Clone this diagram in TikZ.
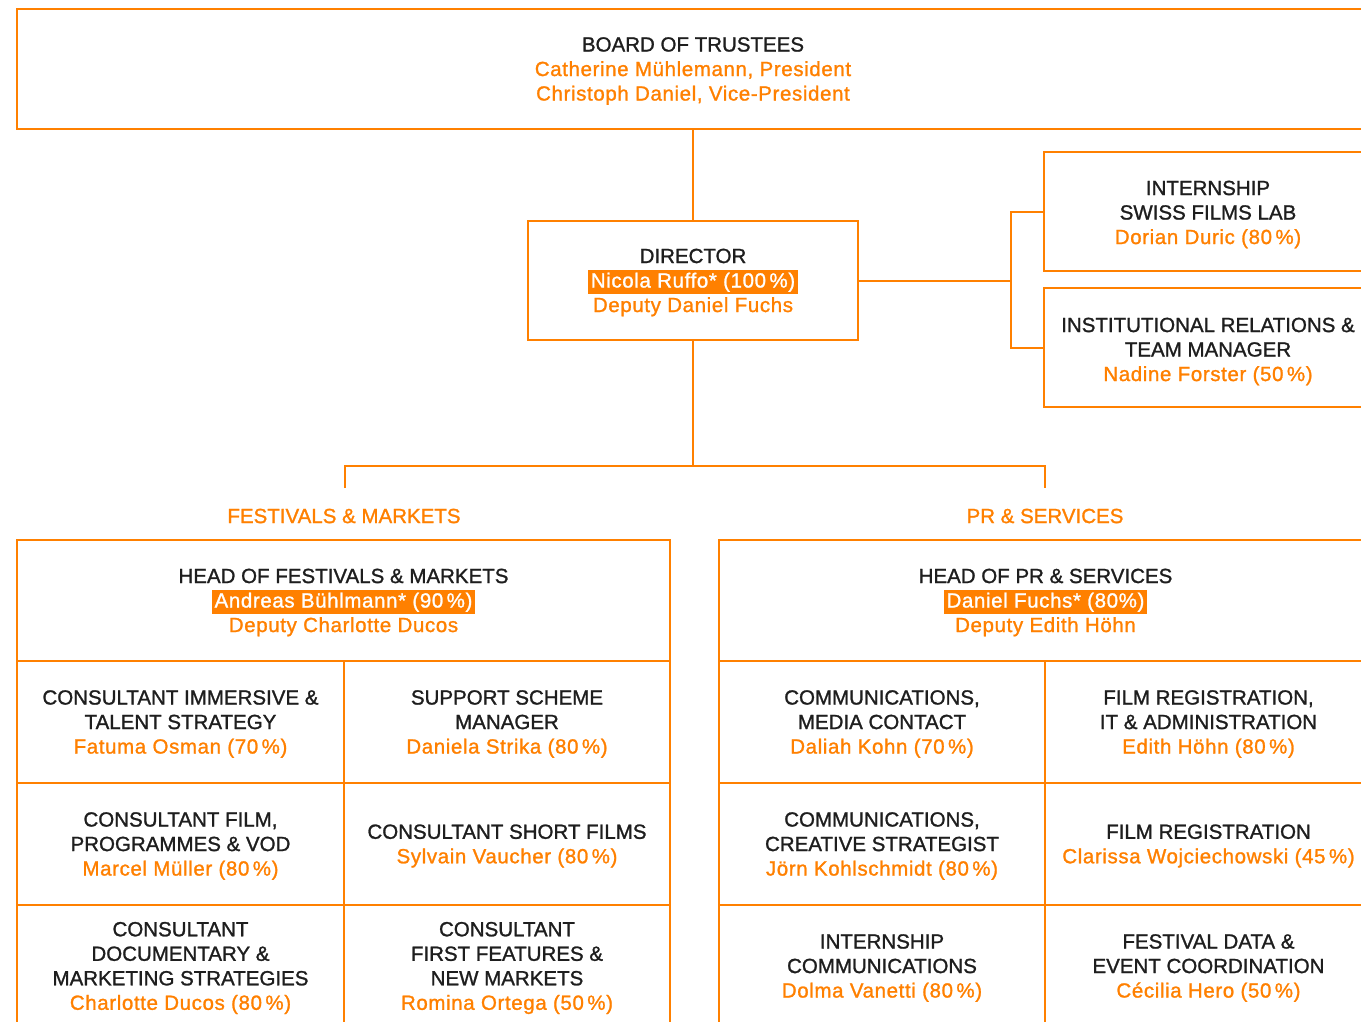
\documentclass[tikz,border=0pt]{standalone}
\usepackage{fontspec}
\setmainfont{Liberation Sans}[FakeBold=1.2]
\newfontfamily\namefont{Liberation Sans}[FakeBold=1.2,LetterSpace=3]
\usepackage{xcolor}
\definecolor{orng}{RGB}{255,128,0}
\definecolor{ink}{RGB}{30,30,30}
\newcommand\nm[1]{\textcolor{orng}{\namefont #1}}
\newcommand\hlname[1]{{\setlength\fboxsep{2.5pt}\colorbox{orng}{\textcolor{white}{\namefont #1}}}}
\begin{document}
\begin{tikzpicture}[x=1pt,y=-1pt,
  box/.style={draw=orng,line width=2pt,rectangle,anchor=north west,
    inner sep=0pt,outer sep=0pt},
  txt/.style={align=center,inner sep=0pt,text=ink,font=\fontsize{20.5}{24.5}\selectfont},
  conn/.style={draw=orng,line width=2pt},
  sect/.style={text=orng,font=\fontsize{20.5}{24.5}\selectfont,inner sep=0pt}]
\useasboundingbox (0,0) rectangle (1361,1021);
\clip (0,0) rectangle (1361,1021);
\fill[white] (0,0) rectangle (1361,1021);
\lineskiplimit=-20pt
% top
\node[box,minimum width=1352,minimum height=120] (board) at (17,9) {};
\node[txt] (boardt) at ([yshift=-2pt]board.center)
  {BOARD OF TRUSTEES\\ \nm{Catherine Mühlemann, President}\\ \nm{Christoph Daniel, Vice-President}};
\node[box,minimum width=330,minimum height=119] (director) at (528,221) {};
\node[txt] (directort) at ([yshift=-2pt]director.center)
  {DIRECTOR\\ \hlname{Nicola Ruffo* (100\,\%)}\\ \nm{Deputy Daniel Fuchs}};
\node[box,minimum width=328,minimum height=119] (intern) at (1044,152) {};
\node[txt] (internt) at ([yshift=-3pt]intern.center)
  {INTERNSHIP\\ SWISS FILMS LAB\\ \nm{Dorian Duric (80\,\%)}};
\node[box,minimum width=328,minimum height=119] (inst) at (1044,288) {};
\node[txt] (instt) at ([yshift=-4pt]inst.center)
  {INSTITUTIONAL RELATIONS \&\\ TEAM MANAGER\\ \nm{Nadine Forster (50\,\%)}};
% section labels
\node[sect] (fmlab) at (344,516) {FESTIVALS \& MARKETS};
\node[sect] (prlab) at (1045,516) {PR \& SERVICES};
% left grid
\node[box,minimum width=653,minimum height=121] (fmhead) at (17,540) {};
\node[txt] (fmheadt) at ([yshift=-2pt]fmhead.center)
  {HEAD OF FESTIVALS \& MARKETS\\ \hlname{Andreas Bühlmann* (90\,\%)}\\ \nm{Deputy Charlotte Ducos}};
\node[box,minimum width=327,minimum height=122] (fm11) at (17,661) {};
\node[txt] (fm11t) at ([yshift=-2pt]fm11.center)
  {CONSULTANT IMMERSIVE \&\\ TALENT STRATEGY\\ \nm{Fatuma Osman (70\,\%)}};
\node[box,minimum width=326,minimum height=122] (fm12) at (344,661) {};
\node[txt] (fm12t) at ([yshift=-2pt]fm12.center)
  {SUPPORT SCHEME\\ MANAGER\\ \nm{Daniela Strika (80\,\%)}};
\node[box,minimum width=327,minimum height=122] (fm21) at (17,783) {};
\node[txt] (fm21t) at ([yshift=-2pt]fm21.center)
  {CONSULTANT FILM,\\ PROGRAMMES \& VOD\\ \nm{Marcel Müller (80\,\%)}};
\node[box,minimum width=326,minimum height=122] (fm22) at (344,783) {};
\node[txt] (fm22t) at ([yshift=-2pt]fm22.center)
  {CONSULTANT SHORT FILMS\\ \nm{Sylvain Vaucher (80\,\%)}};
\node[box,minimum width=327,minimum height=122] (fm31) at (17,905) {};
\node[txt] (fm31t) at ([yshift=-2pt]fm31.center)
  {CONSULTANT\\ DOCUMENTARY \&\\ MARKETING STRATEGIES\\ \nm{Charlotte Ducos (80\,\%)}};
\node[box,minimum width=326,minimum height=122] (fm32) at (344,905) {};
\node[txt] (fm32t) at ([yshift=-2pt]fm32.center)
  {CONSULTANT\\ FIRST FEATURES \&\\ NEW MARKETS\\ \nm{Romina Ortega (50\,\%)}};
% right grid
\node[box,minimum width=653,minimum height=121] (prhead) at (719,540) {};
\node[txt] (prheadt) at ([yshift=-2pt]prhead.center)
  {HEAD OF PR \& SERVICES\\ \hlname{Daniel Fuchs* (80\%)}\\ \nm{Deputy Edith Höhn}};
\node[box,minimum width=326,minimum height=122] (pr11) at (719,661) {};
\node[txt] (pr11t) at ([yshift=-2pt]pr11.center)
  {COMMUNICATIONS,\\ MEDIA CONTACT\\ \nm{Daliah Kohn (70\,\%)}};
\node[box,minimum width=327,minimum height=122] (pr12) at (1045,661) {};
\node[txt] (pr12t) at ([yshift=-2pt]pr12.center)
  {FILM REGISTRATION,\\ IT \& ADMINISTRATION\\ \nm{Edith Höhn (80\,\%)}};
\node[box,minimum width=326,minimum height=122] (pr21) at (719,783) {};
\node[txt] (pr21t) at ([yshift=-2pt]pr21.center)
  {COMMUNICATIONS,\\ CREATIVE STRATEGIST\\ \nm{Jörn Kohlschmidt (80\,\%)}};
\node[box,minimum width=327,minimum height=122] (pr22) at (1045,783) {};
\node[txt] (pr22t) at ([yshift=-2pt]pr22.center)
  {FILM REGISTRATION\\ \nm{Clarissa Wojciechowski (45\,\%)}};
\node[box,minimum width=326,minimum height=122] (pr31) at (719,905) {};
\node[txt] (pr31t) at ([yshift=-2pt]pr31.center)
  {INTERNSHIP\\ COMMUNICATIONS\\ \nm{Dolma Vanetti (80\,\%)}};
\node[box,minimum width=327,minimum height=122] (pr32) at (1045,905) {};
\node[txt] (pr32t) at ([yshift=-2pt]pr32.center)
  {FESTIVAL DATA \&\\ EVENT COORDINATION\\ \nm{Cécilia Hero (50\,\%)}};
% connectors
\coordinate (jr) at (1011,280);
\coordinate (jb) at (693,466);
\coordinate (fmtop) at (345,488);
\coordinate (prtop) at (1045,488);
\draw[conn] (board.south -| director.north) -- (director.north);
\draw[conn] (director.east) -- (director.east -| jr);
\draw[conn] (intern.west) -| (jr) |- (inst.west);
\draw[conn] (director.south) -- (jb);
\draw[conn] (fmtop) |- (jb) -| (prtop);
\end{tikzpicture}
\end{document}
